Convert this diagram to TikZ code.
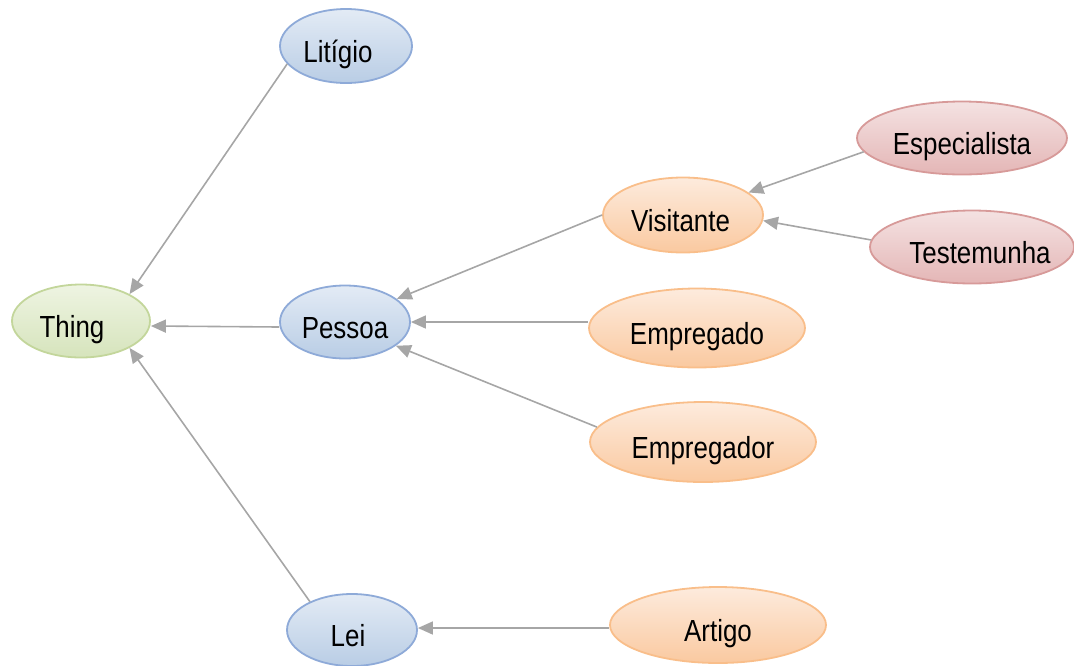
\documentclass[tikz,border=0pt]{standalone}
\usepackage{fontspec}
\setmainfont[FakeStretch=0.85]{Liberation Sans}
\usetikzlibrary{shapes.geometric,arrows.meta}
\definecolor{bluefillA}{HTML}{E3EBF5}
\definecolor{bluefillB}{HTML}{B9CDE5}
\definecolor{blueline}{HTML}{8EAAD8}
\definecolor{greenfillA}{HTML}{EEF4E2}
\definecolor{greenfillB}{HTML}{D6E4BC}
\definecolor{greenline}{HTML}{C3D69B}
\definecolor{orangefillA}{HTML}{FDEBDD}
\definecolor{orangefillB}{HTML}{FAC9A0}
\definecolor{orangeline}{HTML}{F9BE8A}
\definecolor{redfillA}{HTML}{F4E2E2}
\definecolor{redfillB}{HTML}{E4B6B6}
\definecolor{redline}{HTML}{D79A99}
\definecolor{arrowgray}{HTML}{A6A6A6}
\tikzset{
  cls/.style={ellipse, inner sep=0pt, line width=1.8pt, text height=33pt, text depth=0pt,
    font=\fontsize{30.5}{35}\selectfont},
  bluecls/.style={cls, draw=blueline, top color=bluefillA, bottom color=bluefillB},
  greencls/.style={cls, draw=greenline, top color=greenfillA, bottom color=greenfillB},
  orangecls/.style={cls, draw=orangeline, top color=orangefillA, bottom color=orangefillB},
  redcls/.style={cls, draw=redline, top color=redfillA, bottom color=redfillB},
  isa/.style={draw=arrowgray, line width=1.6pt, -{Triangle[length=15pt,width=13pt]}},
}
\begin{document}
\begin{tikzpicture}[x=1pt,y=-1pt]
\useasboundingbox (0,0) rectangle (1074,665);
\node[bluecls, minimum width=132pt, minimum height=74pt] (lit) at (346,46) {Litígio\hspace*{16pt}};
\node[greencls, minimum width=138pt, minimum height=73pt] (thing) at (81,321) {Thing\hspace*{18pt}};
\node[bluecls, minimum width=130pt, minimum height=73pt] (pes) at (345,322) {Pessoa};
\node[bluecls, minimum width=130pt, minimum height=72pt] (lei) at (352,630) {Lei\hspace*{8pt}};
\node[orangecls, minimum width=160pt, minimum height=75pt] (vis) at (683,215) {Visitante\hspace*{5pt}};
\node[orangecls, minimum width=216pt, minimum height=79pt] (empo) at (697,328) {Empregado};
\node[orangecls, minimum width=226pt, minimum height=80pt] (empr) at (703,442) {Empregador};
\node[orangecls, minimum width=216pt, minimum height=76pt] (art) at (718,625) {Artigo};
\node[redcls, minimum width=210pt, minimum height=73pt] (esp) at (962,138) {Especialista};
\node[redcls, minimum width=204pt, minimum height=73pt] (tes) at (972,247) {\hspace*{8pt}Testemunha\hspace*{-8pt}};
% connectors
\draw[isa] (lit.197) -- (thing.29);
\draw[isa] ([yshift=-5pt]pes.west) -- ([yshift=-5pt]thing.east);
\draw[isa] (lei.146) -- (thing.-29);
\draw[isa] (vis.180) -- (pes.24);
\draw[isa] ([yshift=6pt]empo.west) -- (pes.east);
\draw[isa] (empr.172) -- (pes.-25);
\draw[isa] (esp.188) -- (vis.19);
\draw[isa] (tes.176) -- (vis.-4);
\draw[isa] ([yshift=-3pt]art.west) -- ([yshift=2pt]lei.east);
\end{tikzpicture}
\end{document}
